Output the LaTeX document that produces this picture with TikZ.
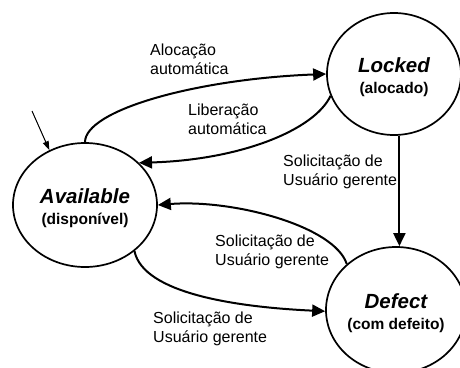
\documentclass[tikz,border=0pt]{standalone}
\usepackage{fontspec}
\setmainfont{Liberation Sans}
\usetikzlibrary{shapes.geometric,arrows.meta}

\begin{document}
\begin{tikzpicture}[x=1pt, y=-1pt,
  state/.style={ellipse, draw, line width=1.7pt, inner sep=0pt, align=center,
    font=\bfseries\fontsize{15.5}{21}\selectfont},
  trans/.style={line width=2pt, -{Triangle[length=13pt,width=12pt]}},
  initarrow/.style={line width=1pt, -{Triangle[length=9pt,width=6pt]}},
  lbl/.style={anchor=north west, inner sep=0pt, align=left,
    font=\fontsize{16}{18.5}\selectfont}
]
% state title: bold italic, with a strut that lowers the text block a little
\newcommand{\stname}[1]{\rule{0pt}{21pt}{\itshape\fontsize{20.5}{21}\selectfont #1}}
\useasboundingbox (0,0) rectangle (460,367);

% states
\node[state, minimum width=134pt, minimum height=122pt] (locked) at (394,74)
  {\stname{Locked}\\(alocado)};
\node[state, minimum width=144pt, minimum height=124pt] (avail) at (85,205)
  {\stname{Available}\\(disponível)};
\node[state, minimum width=140pt, minimum height=126pt] (defect) at (396,310)
  {\stname{Defect}\\(com defeito)};

% initial transition
\coordinate (init) at (32,111);
\draw[initarrow] (init) -- (avail.123);

% transitions
\draw[trans] (avail.90) .. controls +(0,-32) and +(-130,5) .. (locked.180);
\draw[trans] (locked.199) .. controls +(-16,34) and +(102,-3) .. (avail.38);
\draw[trans] (locked.-85) -- (locked.-85 |- defect.north);
\draw[trans] (defect.137) .. controls +(-12,-38) and +(75,-6) .. (avail.east);
\draw[trans] (avail.317) .. controls +(9,43) and +(-86,-4) .. (defect.181);

% transition labels
\node[lbl] (tAloc) at (150,44) {Alocação\\automática};
\node[lbl] (tLib) at (188,104) {Liberação\\automática};
\node[lbl] (tDef) at (283,155) {Solicitação de\\Usuário gerente};
\node[lbl] (tRet) at (215,235) {Solicitação de\\Usuário gerente};
\node[lbl] (tBrk) at (153,312) {Solicitação de\\Usuário gerente};
\end{tikzpicture}
\end{document}
